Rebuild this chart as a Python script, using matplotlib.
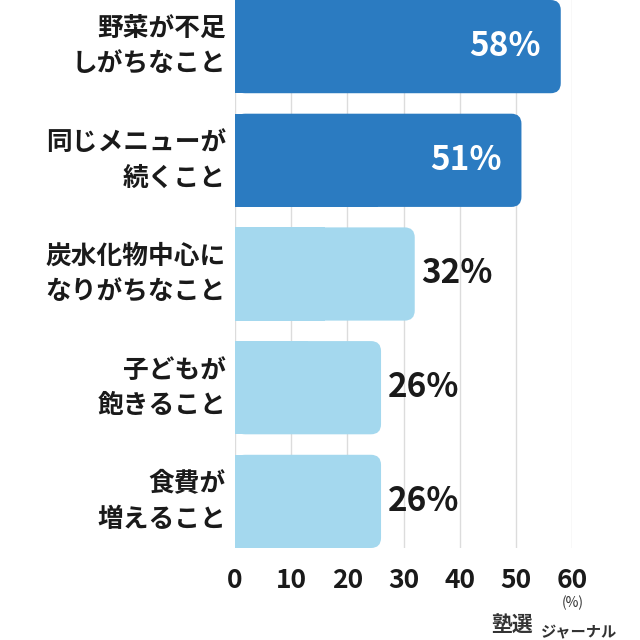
import matplotlib
matplotlib.use("Agg")
import matplotlib.pyplot as plt
from matplotlib.patches import FancyBboxPatch, Rectangle

plt.rcParams["font.family"] = ["Noto Sans CJK JP", "DejaVu Sans"]

labels = ["野菜が不足\nしがちなこと", "同じメニューが\n続くこと", "炭水化物中心に\nなりがちなこと",
          "子どもが\n飽きること", "食費が\n増えること"]
values = [58, 51, 32, 26, 26]
colors = ["#2b7bc1", "#2b7bc1", "#a4d8ee", "#a4d8ee", "#a4d8ee"]
ticks = [0, 10, 20, 30, 40, 50, 60]

fig = plt.figure(figsize=(6.4, 6.4), dpi=100)
ax = fig.add_axes([235 / 640, 1 - 548 / 640, (572 - 235) / 640, 548 / 640])

h = 0.82
ax.set_xlim(0, 60)
ax.set_ylim(len(values) - 1 + 0.41, -0.41)
# pixels per data unit: x ~5.62, y ~113.7
aspect = 5.62 / 113.7
for i, (v, c) in enumerate(zip(values, colors)):
    box = FancyBboxPatch((0, i - h / 2), v, h,
                         boxstyle="round,pad=0,rounding_size=1.8",
                         mutation_aspect=aspect, fc=c, ec="none", zorder=2, clip_on=False)
    ax.add_patch(box)
    ax.add_patch(Rectangle((0, i - h / 2), v / 2, h, fc=c, ec="none", zorder=2))
    if v > 40:
        ax.text(v - 3.5, i, f"{v}%", ha="right", va="center", color="white",
                fontsize=24, fontweight="bold", zorder=3)
    else:
        ax.text(v + 1.2, i, f"{v}%", ha="left", va="center", color="#1a1a1a",
                fontsize=24, fontweight="bold", zorder=3)
    ax.text(-1.6, i, labels[i], ha="right", va="center", fontsize=18.5, fontweight="bold",
            color="#1a1a1a", linespacing=1.4)

ax.set_xticks(ticks)
ax.set_xticklabels([str(t) for t in ticks], fontsize=19, fontweight="bold", color="#1a1a1a")
ax.set_yticks([])
ax.tick_params(axis="x", length=0, pad=14)
ax.grid(axis="x", color="#dcdcdc", lw=1, zorder=0)
for s in ax.spines.values():
    s.set_visible(False)

fig.text(573 / 640, 1 - 603 / 640, "(%)", ha="center", va="center", fontsize=10, color="#333333")
fig.text(512 / 640, 1 - 625 / 640, "塾選", ha="center", va="center", fontsize=15,
         fontweight="bold", color="#333333")
fig.text(541 / 640, 1 - 632 / 640, "ジャーナル", ha="left", va="center", fontsize=11,
         fontweight="bold", color="#333333")

fig.savefig("out.png", dpi=100, facecolor="white")
